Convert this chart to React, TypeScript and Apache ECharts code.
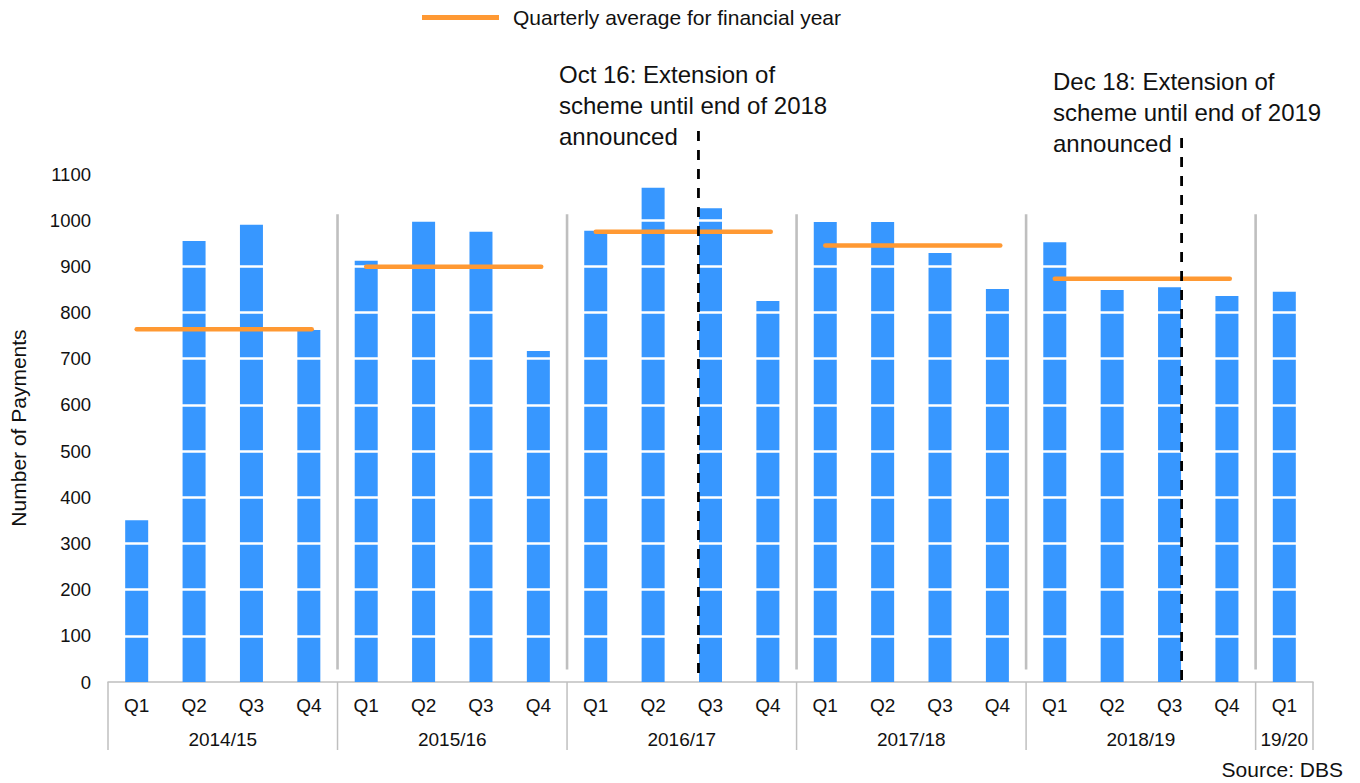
import React, { useEffect, useRef } from "react";
import * as echarts from "echarts";

const quarters = ["Q1","Q2","Q3","Q4","Q1","Q2","Q3","Q4","Q1","Q2","Q3","Q4","Q1","Q2","Q3","Q4","Q1","Q2","Q3","Q4","Q1"];
const years = ["2014/15","2015/16","2016/17","2017/18","2018/19","19/20"];
const yearSpans = [4,4,4,4,4,1];
const payments = [350,955,990,762, 912,999,975,717, 977,1070,1026,825, 996,996,929,851, 952,849,855,836, 845];
const averages = [764, 899, 975, 945, 873];
const yTicks = { min: 0, max: 1100, interval: 100 };
const gridlineValues = [100,200,300,400,500,600,700,800,900,1000,1100];
const announceX = [10.29, 18.71];
const announceTop = [1193, 1178];
const announceText = [
  "Oct 16: Extension of\nscheme until end of 2018\nannounced",
  "Dec 18: Extension of\nscheme until end of 2019\nannounced",
];
const separatorRange = [27, 1013];
const legendName = "Quarterly average for financial year";

const FONT = "'Liberation Sans', Arial, sans-serif";
const BLUE = "#3797FF";
const ORANGE = "#FF9933";
const GREY = "#BFBFBF";
const TXT = "#111111";

export default function App() {
  const ref = useRef<HTMLDivElement>(null);
  useEffect(() => {
    const chart = echarts.init(ref.current!, null, { renderer: "svg" });

    const boundaries: number[] = [0];
    yearSpans.forEach((s) => boundaries.push(boundaries[boundaries.length - 1] + s));
    const centers = years.map((_, i) => (boundaries[i] + boundaries[i + 1]) / 2);

    const avgSeries = averages.map((a, g) => ({
      name: legendName,
      type: "line",
      xAxisIndex: 1,
      yAxisIndex: 0,
      data: [[boundaries[g] + 0.5, a], [boundaries[g] + 3.55, a]],
      symbol: "none",
      lineStyle: { color: ORANGE, width: 4.5, cap: "round" },
      itemStyle: { color: ORANGE },
      z: 5,
      silent: true,
    }));

    const option: any = {
      animation: false,
      textStyle: { fontFamily: FONT },
      legend: {
        data: [legendName],
        left: 422,
        top: 7,
        padding: 0,
        icon: "rect",
        itemWidth: 77,
        itemHeight: 5,
        textStyle: { fontSize: 21, color: TXT, fontFamily: FONT, padding: [0, 0, 0, 9] },
      },
      grid: { left: 107, right: 47, top: 174, bottom: 101, containLabel: false },
      xAxis: [
        {
          type: "category",
          data: quarters,
          boundaryGap: true,
          axisLine: { lineStyle: { color: GREY, width: 1.5 } },
          axisTick: { show: false },
          axisLabel: { fontSize: 19, margin: 14, color: TXT, fontFamily: FONT, lineHeight: 19 },
          splitLine: { show: false },
        },
        {
          type: "value",
          min: 0,
          max: quarters.length,
          show: false,
          splitLine: { show: false },
        },
      ],
      yAxis: {
        type: "value",
        min: yTicks.min,
        max: yTicks.max,
        interval: yTicks.interval,
        axisLine: { show: false },
        axisTick: { show: false },
        splitLine: { show: false },
        axisLabel: {
          fontSize: 18.5,
          margin: 17,
          color: TXT,
          fontFamily: FONT,
          formatter: (v: number) => String(v),
        },
        name: "Number of Payments",
        nameLocation: "middle",
        nameRotate: 90,
        nameGap: 79,
        nameTextStyle: { fontSize: 21, color: TXT, fontFamily: FONT },
      },
      series: [
        {
          type: "bar",
          xAxisIndex: 0,
          yAxisIndex: 0,
          data: payments,
          barWidth: 23,
          itemStyle: { color: BLUE },
          z: 2,
          markLine: {
            silent: true,
            symbol: "none",
            label: { show: false },
            lineStyle: { color: "#FFFFFF", width: 2.6, type: "solid" },
            data: gridlineValues.map((v) => ({ yAxis: v })),
            z: 3,
          },
        },
        ...avgSeries,
        {
          type: "custom",
          xAxisIndex: 1,
          yAxisIndex: 0,
          silent: true,
          z: 4,
          data: boundaries.slice(1, boundaries.length - 1).map((b) => [b, separatorRange[0], separatorRange[1]]),
          renderItem: (params: any, api: any) => {
            const p0 = api.coord([api.value(0), api.value(1)]);
            const p1 = api.coord([api.value(0), api.value(2)]);
            return {
              type: "line",
              shape: { x1: p0[0], y1: p0[1], x2: p1[0], y2: p1[1] },
              style: { stroke: GREY, lineWidth: 2.6 },
            };
          },
        },
        {
          type: "custom",
          xAxisIndex: 1,
          yAxisIndex: 0,
          silent: true,
          clip: false,
          z: 4,
          data: boundaries.map((b) => [b, 0]),
          renderItem: (params: any, api: any) => {
            const p = api.coord([api.value(0), 0]);
            return {
              type: "line",
              shape: { x1: p[0], y1: p[1], x2: p[0], y2: p[1] + 68 },
              style: { stroke: GREY, lineWidth: 1.5 },
            };
          },
        },
        {
          type: "custom",
          xAxisIndex: 1,
          yAxisIndex: 0,
          silent: true,
          clip: false,
          z: 4,
          data: centers.map((c, i) => [c, 0, i]),
          renderItem: (params: any, api: any) => {
            const p = api.coord([api.value(0), 0]);
            return {
              type: "text",
              x: p[0],
              y: p[1] + 57,
              style: {
                text: years[api.value(2)],
                align: "center",
                verticalAlign: "middle",
                fontSize: 19,
                fontFamily: FONT,
                fill: TXT,
              },
            };
          },
        },
        {
          type: "custom",
          xAxisIndex: 1,
          yAxisIndex: 0,
          silent: true,
          clip: false,
          z: 6,
          data: announceX.map((x, i) => [x, 0, announceTop[i]]),
          renderItem: (params: any, api: any) => {
            const p0 = api.coord([api.value(0), 0]);
            const p1 = api.coord([api.value(0), api.value(2)]);
            return {
              type: "line",
              shape: { x1: p1[0], y1: p1[1], x2: p0[0], y2: p0[1] },
              style: { stroke: "#000000", lineWidth: 2.8, lineDash: [10, 9] },
            };
          },
        },
      ],
      graphic: [
        {
          type: "text",
          left: 559,
          top: 59,
          style: { text: announceText[0], fontSize: 24, lineHeight: 31, fontFamily: FONT, fill: TXT },
        },
        {
          type: "text",
          left: 1053,
          top: 66,
          style: { text: announceText[1], fontSize: 24, lineHeight: 31, fontFamily: FONT, fill: TXT },
        },
        {
          type: "text",
          right: 17,
          top: 759,
          style: { text: "Source: DBS", fontSize: 21, fontFamily: FONT, fill: TXT },
        },
      ],
    };
    chart.setOption(option);
    return () => chart.dispose();
  }, []);
  return <div ref={ref} style={{ width: 1360, height: 783, position: "absolute", left: 0, top: 0 }} />;
}
